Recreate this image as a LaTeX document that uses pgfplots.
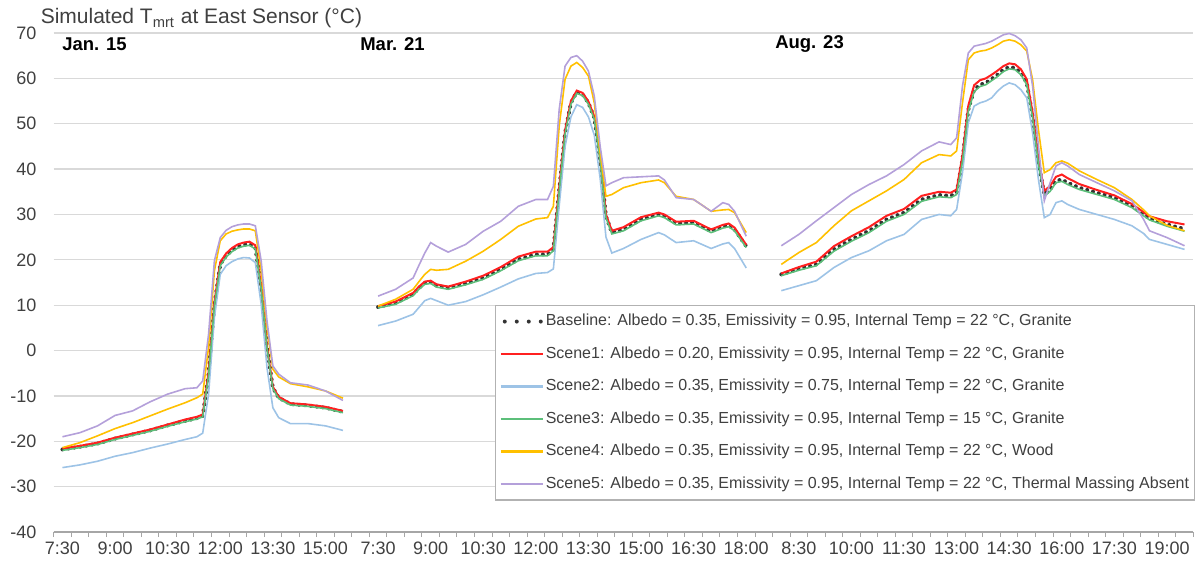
\documentclass[border=0pt]{standalone}
\usepackage{fontspec}
\setmainfont{Liberation Sans}
\usepackage{pgfplots}
\pgfplotsset{compat=1.18}
\usepackage{pgfplotstable}
\usetikzlibrary{calc}

\definecolor{sc1}{HTML}{FF2020}
\definecolor{sc2}{HTML}{9DC3E6}
\definecolor{sc3}{HTML}{5CBF7A}
\definecolor{sc4}{HTML}{FFC000}
\definecolor{sc5}{HTML}{B4A0DA}
\definecolor{gridc}{HTML}{D9D9D9}
\definecolor{txt}{HTML}{404040}

% x = category index (10-min steps), nan rows split the three days
\pgfplotstableread{
i   base  s1    s2    s3    s4    s5
0   -21.8 -21.6 -25.8 -22.0 -21.4 -19.0
3   -21.2 -21.0 -25.2 -21.4 -20.3 -18.1
6   -20.5 -20.3 -24.4 -20.7 -18.8 -16.6
9   -19.4 -19.2 -23.3 -19.6 -17.2 -14.3
12  -18.5 -18.3 -22.5 -18.7 -15.9 -13.3
15  -17.6 -17.4 -21.5 -17.8 -14.4 -11.3
18  -16.5 -16.3 -20.6 -16.7 -12.9 -9.6
21  -15.5 -15.2 -19.6 -15.7 -11.5 -8.4
23  -14.9 -14.6 -19.0 -15.1 -10.4 -8.2
24  -14.4 -14.1 -18.2 -14.6 -9.6  -6.7
25  -5.2  -4.8  -9.6  -5.5  0.7   3.6
26  10.2  10.6  7.3   9.9   17.6  19.8
27  19.0  19.5  16.8  18.7  24.2  24.9
28  20.9  21.4  18.7  20.6  25.7  26.5
29  22.1  22.6  19.6  21.8  26.3  27.3
30  22.9  23.4  20.2  22.6  26.6  27.7
31  23.3  23.8  20.5  23.0  26.8  27.9
32  23.5  24.0  20.4  23.2  26.8  27.9
33  22.7  23.2  19.4  22.4  26.4  27.5
34  13.9  14.2  10.2  13.6  17.6  19.8
35  0.7   0.9   -3.8  0.5   5.1   6.5
36  -8.2  -8.0  -12.6 -8.4  -4.1  -3.4
37  -10.4 -10.2 -14.8 -10.6 -5.8  -5.2
39  -11.8 -11.6 -16.1 -12.0 -7.3  -7.1
42  -12.1 -11.9 -16.1 -12.3 -8.0  -7.6
45  -12.6 -12.4 -16.6 -12.8 -8.9  -8.9
48  -13.5 -13.3 -17.6 -13.7 -10.5 -11.0
50  nan   nan   nan   nan   nan   nan
54  9.6   9.8   5.5   9.4   9.8   12.0
57  10.5  10.8  6.5   10.2  11.3  13.5
60  12.4  12.7  8.0   12.1  13.5  16.0
61  13.8  14.1  9.5   13.5  15.2  18.8
62  14.9  15.2  11.0  14.6  16.8  21.5
63  15.1  15.4  11.5  14.8  17.9  23.8
64  14.3  14.6  11.0  14.0  17.7  23.0
66  13.8  14.1  10.0  13.5  17.9  21.7
69  14.8  15.2  10.8  14.5  19.7  23.4
72  16.0  16.5  12.3  15.7  21.9  26.3
75  17.9  18.4  14.0  17.6  24.5  28.5
78  20.1  20.7  15.8  19.8  27.4  31.8
81  21.2  21.8  17.0  20.9  29.0  33.3
83  21.2  21.8  17.2  20.9  29.3  33.3
84  22.3  22.8  18.0  22.0  31.8  36.2
85  35.5  36.0  32.0  35.2  49.5  53.2
86  48.0  48.5  45.0  47.7  59.8  62.7
87  54.6  55.0  51.5  54.3  62.7  64.6
88  57.0  57.3  54.2  56.7  63.5  65.0
89  56.5  56.8  53.6  56.2  62.4  63.8
90  54.6  54.9  51.5  54.3  60.5  61.6
91  51.3  51.6  47.5  51.0  54.6  56.1
92  42.1  42.5  38.0  41.8  43.6  45.1
93  29.6  30.0  25.0  29.3  34.0  36.3
94  26.0  26.4  21.5  25.7  34.4  37.0
96  26.7  27.2  22.5  26.4  35.9  38.1
99  28.9  29.4  24.5  28.6  37.0  38.3
102 30.0  30.4  26.0  29.7  37.6  38.5
103 29.6  30.0  25.5  29.3  37.0  37.6
105 28.0  28.4  23.8  27.7  34.0  33.7
108 28.2  28.6  24.2  27.9  33.3  33.3
111 26.3  26.7  22.5  26.0  30.7  30.7
113 27.3  27.7  23.5  27.0  31.0  32.6
114 27.6  28.0  23.8  27.3  31.1  32.2
115 26.7  27.1  22.5  26.4  30.4  30.7
117 23.0  23.3  18.2  22.7  26.0  25.2
120 nan   nan   nan   nan   nan   nan
123 16.8  17.0  13.2  16.5  19.0  23.1
126 18.0  18.4  14.3  17.7  21.6  25.6
129 19.0  19.6  15.4  18.7  23.8  28.6
132 22.3  23.0  18.3  21.9  27.5  31.5
135 24.5  25.2  20.5  24.1  30.8  34.4
138 26.4  27.2  22.0  26.0  33.0  36.6
141 28.9  29.7  24.2  28.5  35.2  38.5
144 30.4  31.2  25.6  30.0  37.7  41.0
147 33.3  34.1  28.9  32.9  41.4  44.0
150 34.3  35.0  30.0  33.9  43.2  46.0
152 34.1  34.8  29.7  33.7  42.9  45.4
153 34.8  35.5  31.1  34.4  44.0  46.9
154 42.1  43.0  39.2  41.7  54.6  58.3
155 53.1  54.0  50.2  52.7  64.1  65.6
156 57.5  58.5  53.9  57.1  65.6  67.1
157 58.6  59.6  54.6  58.2  66.0  67.4
158 59.0  60.0  55.0  58.6  66.2  67.7
159 59.9  60.8  55.7  59.5  66.7  68.2
160 60.8  61.7  57.2  60.4  67.4  68.9
161 61.9  62.7  58.3  61.5  68.2  69.6
162 62.5  63.3  59.0  62.1  68.5  69.9
163 62.3  63.1  58.6  61.9  68.2  69.4
164 61.2  62.0  57.5  60.8  67.4  68.5
165 59.0  59.8  55.7  58.6  66.0  66.7
166 51.7  52.5  48.0  51.3  59.7  58.3
167 41.4  42.2  37.7  41.0  48.7  45.1
168 34.4  35.2  29.3  34.0  39.2  33.0
169 35.5  36.3  30.0  35.1  39.9  37.0
170 37.4  38.3  32.6  37.0  41.4  40.7
171 37.7  38.8  33.0  37.3  41.8  41.4
172 37.0  38.0  32.2  36.6  41.3  40.7
174 35.9  36.7  31.1  35.5  39.6  38.8
177 34.8  35.4  30.0  34.4  37.7  37.0
180 33.7  34.2  28.9  33.3  35.9  35.2
183 31.9  32.3  27.5  31.5  33.3  33.0
185 30.0  30.5  25.8  29.7  31.0  28.9
186 29.1  29.6  24.5  28.8  29.7  26.4
189 27.8  28.5  23.4  27.4  27.6  24.9
192 26.8  27.8  22.3  26.3  26.4  23.1
}\tmrt

\begin{document}
\begin{tikzpicture}
\begin{axis}[
    scale only axis, width=569.8pt, height=249.5pt,
    xmin=-1.5, xmax=193.5, ymin=-40, ymax=70,
    ytick={-40,-30,...,70},
    xtick={0,9,...,189},
    xticklabels={7:30,9:00,10:30,12:00,13:30,15:00,7:30,9:00,10:30,12:00,13:30,15:00,16:30,18:00,8:30,10:00,11:30,13:00,14:30,16:00,17:30,19:00},
    minor xtick={-1.5,1.5,...,193.5},
    major tick length=0pt, minor tick length=2.5pt,
    tick align=outside, tick pos=left,
    minor tick style={draw=black!35, line width=0.5pt},
    ymajorgrids, grid style={gridc, line width=0.6pt},
    axis line style={draw=none},
    tick label style={font=\fontsize{9}{10}\selectfont, text=txt},
    yticklabel style={anchor=east, inner sep=0pt, xshift=-8.5pt},
    xticklabel style={anchor=north, inner sep=0pt, yshift=-4.8pt},
    /pgf/number format/assume math mode=true,
    unbounded coords=jump,
    legend style={
        at={(0.3872,0.455)}, anchor=north west,
        draw=black!30, fill=white, line width=0.6pt,
        font=\fontsize{8}{9.6}\selectfont, text=txt,
        inner xsep=2pt, inner ysep=3.6pt, row sep=7.45pt,
        nodes={inner sep=0.5pt, text height=6pt, text depth=1.8pt},
        /tikz/every even column/.append style={column sep=0pt},
    },
    legend cell align=left,
    legend image code/.code={\draw[#1, line width=1.2pt] (0pt,0pt) -- (21pt,0pt);},
]
\addplot[black!80, line width=2pt, dash pattern=on 0pt off 3pt, line cap=round,
    legend image code/.code={\draw[black!80, line width=2pt, dash pattern=on 0pt off 6pt, line cap=round] (2pt,0pt) -- (21pt,0pt);}]
    table[x=i, y=base] {\tmrt};
\addlegendentry{Baseline: Albedo = 0.35, Emissivity = 0.95, Internal Temp = 22 °C, Granite}
\addplot[sc1, line width=1pt] table[x=i, y=s1] {\tmrt};
\addlegendentry{Scene1: Albedo = 0.20, Emissivity = 0.95, Internal Temp = 22 °C, Granite}
\addplot[sc2, line width=0.8pt] table[x=i, y=s2] {\tmrt};
\addlegendentry{Scene2: Albedo = 0.35, Emissivity = 0.75, Internal Temp = 22 °C, Granite}
\addplot[sc3, line width=0.8pt] table[x=i, y=s3] {\tmrt};
\addlegendentry{Scene3: Albedo = 0.35, Emissivity = 0.95, Internal Temp = 15 °C, Granite}
\addplot[sc4, line width=0.8pt] table[x=i, y=s4] {\tmrt};
\addlegendentry{Scene4: Albedo = 0.35, Emissivity = 0.95, Internal Temp = 22 °C, Wood}
\addplot[sc5, line width=0.8pt] table[x=i, y=s5] {\tmrt};
\addlegendentry{Scene5: Albedo = 0.35, Emissivity = 0.95, Internal Temp = 22 °C, Thermal Massing Absent}

\draw[black!35, line width=0.6pt] (rel axis cs:0,0) -- (rel axis cs:1,0);
\node[anchor=west, inner sep=0pt, font=\bfseries\fontsize{9.25}{11}\selectfont] at (axis cs:-0.1,67.5) {Jan. 15};
\node[anchor=west, inner sep=0pt, font=\bfseries\fontsize{9.25}{11}\selectfont] at (axis cs:50.9,67.5) {Mar. 21};
\node[anchor=west, inner sep=0pt, font=\bfseries\fontsize{9.25}{11}\selectfont] at (axis cs:121.9,67.5) {Aug. 23};
\end{axis}
\node[anchor=base west, inner sep=0pt, font=\fontsize{10.5}{12}\selectfont, text=txt]
    at ($(current axis.north west)+(-6.65pt,4.5pt)$) {Simulated T\textsubscript{mrt} at East Sensor (°C)};
\pgfresetboundingbox
\path[use as bounding box] ($(current axis.south west)+(-26.85pt,-16.5pt)$) rectangle ($(current axis.north east)+(1.35pt,16.5pt)$);
\end{tikzpicture}
\end{document}
